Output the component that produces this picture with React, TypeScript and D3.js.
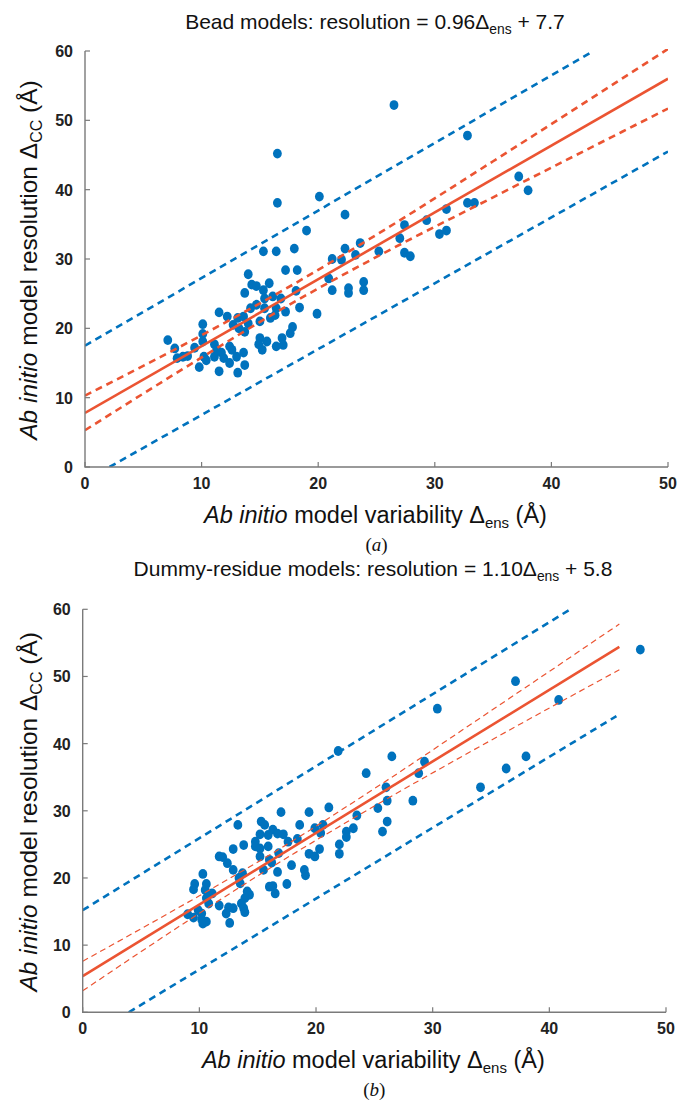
import React from "react";
import * as d3 from "d3";

// scatter points: [variability, resolution]
const beadPoints = [
  [15.3, 31.1], [16.4, 31.1], [17.95, 31.5], [14.0, 27.8], [17.2, 28.4], [18.2, 28.4],
  [21.2, 30.0], [22.0, 29.9], [22.3, 31.5], [14.3, 26.3], [14.7, 26.1], [15.3, 25.5],
  [15.8, 26.5], [13.7, 25.1], [15.4, 24.3], [16.1, 24.6], [16.8, 24.3], [18.1, 25.4],
  [20.9, 27.2], [21.2, 25.5], [14.2, 22.9], [14.7, 23.4], [15.4, 22.9], [16.4, 22.9],
  [17.2, 22.4], [18.4, 23.0], [19.9, 22.1], [11.5, 22.3], [12.2, 21.7], [13.1, 21.5],
  [13.6, 21.7], [14.0, 20.7], [15.0, 21.0], [15.9, 21.5], [16.3, 21.9], [10.1, 20.6],
  [12.7, 20.5], [13.2, 20.0], [13.7, 19.5], [10.1, 19.2], [15.0, 18.6], [14.9, 17.7],
  [15.6, 18.1], [16.9, 18.6], [17.8, 20.2], [17.6, 19.3], [16.4, 17.4], [17.0, 17.6],
  [15.2, 16.9], [7.1, 18.3], [7.7, 17.1], [7.9, 15.7], [8.4, 15.9], [8.8, 16.0],
  [9.4, 17.2], [10.1, 18.1], [10.2, 15.9], [10.4, 15.4], [11.1, 17.7], [11.3, 16.9],
  [11.1, 15.9], [11.7, 16.5], [11.9, 15.7], [12.4, 17.4], [12.6, 16.9], [12.4, 15.0],
  [13.0, 15.9], [13.6, 16.5], [13.7, 14.7], [9.8, 14.4], [11.5, 13.8], [13.1, 13.6],
  [23.6, 32.3], [23.2, 30.6], [22.6, 25.8], [22.6, 25.1], [23.9, 26.7], [23.9, 25.5],
  [25.2, 31.1], [16.5, 45.2], [16.5, 38.1], [20.1, 39.0], [22.3, 36.4], [19.0, 34.1],
  [26.5, 52.2], [32.8, 47.8], [37.2, 41.9], [38.0, 39.9], [32.8, 38.1], [33.4, 38.1],
  [31.0, 37.2], [29.3, 35.6], [27.4, 34.9], [27.0, 33.0], [30.4, 33.6], [31.0, 34.1],
  [27.4, 30.9], [27.9, 30.4],
];

const dummyPoints = [
  [13.3, 27.9], [17.0, 29.8], [19.4, 29.8], [21.1, 30.5], [15.3, 28.4], [15.6, 27.9],
  [18.6, 27.9], [19.9, 27.4], [20.6, 27.9], [20.4, 26.7], [16.3, 27.2], [15.2, 26.5],
  [15.9, 26.4], [16.7, 26.6], [17.2, 26.5], [14.8, 25.4], [14.8, 24.7], [15.2, 24.4],
  [15.9, 24.7], [13.8, 24.9], [12.9, 24.3], [17.6, 25.4], [18.4, 25.8], [16.8, 23.7],
  [15.2, 23.2], [11.7, 23.2], [12.0, 23.1], [12.4, 22.2], [16.0, 22.7], [19.4, 23.6],
  [19.9, 23.2], [20.3, 24.3], [22.0, 25.0], [22.0, 23.6], [22.6, 26.9], [22.6, 26.1],
  [23.2, 27.4], [23.5, 29.3], [25.3, 30.4], [12.9, 21.2], [13.7, 20.7], [13.4, 20.0],
  [13.5, 19.2], [15.5, 21.2], [16.2, 22.3], [16.7, 20.9], [17.9, 21.9], [19.0, 21.2],
  [19.1, 20.4], [17.5, 19.1], [16.0, 18.7], [16.3, 18.8], [16.5, 17.7], [10.3, 20.6],
  [9.6, 19.1], [9.5, 18.3], [10.6, 19.1], [10.5, 18.2], [11.1, 17.7], [10.6, 17.0],
  [10.8, 16.2], [14.3, 17.5], [14.1, 18.0], [13.9, 17.0], [13.6, 16.2], [13.8, 15.5],
  [13.9, 14.9], [11.7, 15.9], [12.5, 15.6], [12.9, 15.5], [12.3, 14.7], [12.6, 13.3],
  [9.0, 14.6], [9.5, 14.1], [9.9, 15.2], [10.2, 14.7], [10.3, 13.2], [10.6, 13.5],
  [10.2, 13.8], [47.8, 54.0], [37.1, 49.3], [40.8, 46.5], [30.4, 45.2], [26.5, 38.1],
  [29.3, 37.3], [28.8, 35.6], [38.0, 38.1], [36.3, 36.3], [24.3, 35.6], [21.9, 38.9],
  [34.1, 33.5], [26.0, 33.5], [26.1, 31.5], [28.3, 31.5], [26.1, 28.4], [25.7, 26.9],
];

// fitted lines and bands
const beadFit = [[0, 7.8], [50, 56.0]];
const beadConfUpper = [[0, 10.3], [10, 19.0], [17, 25.5], [25, 33.5], [35, 44.1], [50, 60.3]];
const beadConfLower = [[0, 5.3], [10, 15.8], [17, 22.9], [25, 30.3], [35, 38.9], [50, 51.7]];
const beadPredUpper = [[0, 17.5], [43.6, 60]];
const beadPredLower = [[2.1, 0], [50, 45.5]];

const dummyFit = [[0, 5.4], [46, 54.4]];
const dummyConfUpper = [[0, 7.6], [10, 17.35], [16, 23.4], [25, 33.3], [35, 44.9], [46, 57.8]];
const dummyConfLower = [[0, 3.2], [10, 14.75], [16, 21.4], [25, 30.7], [35, 40.5], [46, 51.0]];
const dummyPredUpper = [[0, 15.2], [41.7, 59.9]];
const dummyPredLower = [[3.95, 0], [45.75, 44.1]];

const xTicks = [0, 10, 20, 30, 40, 50];
const yTicks = [0, 10, 20, 30, 40, 50, 60];

const BLUE = "#0072BD";
const RED = "#EB5432";
const AXIS = "#7a7a7a";
const SANS = "'Liberation Sans', Arial, sans-serif";

function Panel({ box, points, fit, confU, confL, predU, predL, thinConf, title, tag, id }) {
  const x = d3.scaleLinear().domain([0, 50]).range([box.left, box.right]);
  const y = d3.scaleLinear().domain([0, 60]).range([box.bottom, box.top]);
  const line = d3.line().x((d) => x(d[0])).y((d) => y(d[1]));
  const curve = d3.line().x((d) => x(d[0])).y((d) => y(d[1])).curve(d3.curveMonotoneX);
  const cx = (box.left + box.right) / 2;

  return (
    <g>
      <defs>
        <clipPath id={id}>
          <rect x={box.left} y={box.top - 2} width={box.right - box.left} height={box.bottom - box.top + 2} />
        </clipPath>
      </defs>

      <text x={box.titleX} y={box.titleY} textAnchor="middle" fontFamily={SANS} fontSize={box.titleSize} fill="#111">
        {title[0]}Δ
        <tspan fontSize={box.titleSize * 0.66} dy={5}>ens</tspan>
        <tspan dy={-5}>{title[1]}</tspan>
      </text>

      <g clipPath={`url(#${id})`}>
        {points.map((p, i) => (
          <ellipse key={i} cx={x(p[0])} cy={y(p[1])} rx={4.4} ry={4.9} fill={BLUE} />
        ))}
        <path d={line(predU)} fill="none" stroke={BLUE} strokeWidth={2.6} strokeDasharray="7 5" />
        <path d={line(predL)} fill="none" stroke={BLUE} strokeWidth={2.6} strokeDasharray="7 5" />
        <path d={curve(confU)} fill="none" stroke={RED} strokeWidth={thinConf ? 1.2 : 2.6}
          strokeDasharray={thinConf ? "6 4" : "7 5"} />
        <path d={curve(confL)} fill="none" stroke={RED} strokeWidth={thinConf ? 1.2 : 2.6}
          strokeDasharray={thinConf ? "6 4" : "7 5"} />
        <path d={line(fit)} fill="none" stroke={RED} strokeWidth={2.6} />
      </g>

      {/* axes */}
      <path d={`M${box.left},${box.top}V${box.bottom}H${box.right}`} fill="none" stroke={AXIS} strokeWidth={1.4} />
      {yTicks.map((t) => (
        <g key={"y" + t}>
          <line x1={box.left} x2={box.left + 5} y1={y(t)} y2={y(t)} stroke={AXIS} strokeWidth={1.2} />
          <text x={box.left - 12} y={y(t) + 6} textAnchor="end" fontFamily={SANS} fontWeight="bold"
            fontSize={16} fill="#222">{t}</text>
        </g>
      ))}
      {xTicks.map((t) => (
        <g key={"x" + t}>
          <line x1={x(t)} x2={x(t)} y1={box.bottom} y2={box.bottom - 5} stroke={AXIS} strokeWidth={1.2} />
          <text x={x(t)} y={box.bottom + 22} textAnchor="middle" fontFamily={SANS} fontWeight="bold"
            fontSize={16} fill="#222">{t}</text>
        </g>
      ))}

      <text x={cx - 1} y={box.bottom + 56} textAnchor="middle" fontFamily={SANS} fontSize={23.5} fill="#111">
        <tspan fontStyle="italic">Ab initio</tspan> model variability Δ
        <tspan fontSize={15} dy={5}>ens</tspan>
        <tspan dy={-5}> (Å)</tspan>
      </text>

      <text transform={`translate(37,${(box.top + box.bottom) / 2 + 1}) rotate(-90)`} textAnchor="middle"
        fontFamily={SANS} fontSize={24.5} fill="#111">
        <tspan fontStyle="italic">Ab initio</tspan> model resolution Δ
        <tspan fontSize={16} dy={5}>CC</tspan>
        <tspan dy={-5}> (Å)</tspan>
      </text>

      <text x={cx} y={box.bottom + 84} textAnchor="middle" fontFamily="'Liberation Serif', 'Times New Roman', serif"
        fontSize={19} fill="#111">
        (<tspan fontStyle="italic">{tag}</tspan>)
      </text>
    </g>
  );
}

export default function App() {
  return (
    <div style={{ position: "absolute", left: 0, top: 0 }}>
      <svg width={679} height={1101} style={{ display: "block", background: "#fff" }}>
        <Panel
          id="clipA"
          box={{ left: 85, right: 668, top: 51, bottom: 467, titleX: 375, titleY: 29, titleSize: 21 }}
          points={beadPoints}
          fit={beadFit}
          confU={beadConfUpper}
          confL={beadConfLower}
          predU={beadPredUpper}
          predL={beadPredLower}
          thinConf={false}
          title={["Bead models: resolution = 0.96", " + 7.7"]}
          tag="a"
        />
        <Panel
          id="clipB"
          box={{ left: 82.7, right: 666, top: 609.3, bottom: 1012.3, titleX: 373, titleY: 576, titleSize: 21 }}
          points={dummyPoints}
          fit={dummyFit}
          confU={dummyConfUpper}
          confL={dummyConfLower}
          predU={dummyPredUpper}
          predL={dummyPredLower}
          thinConf={true}
          title={["Dummy-residue models: resolution = 1.10", " + 5.8"]}
          tag="b"
        />
      </svg>
    </div>
  );
}
